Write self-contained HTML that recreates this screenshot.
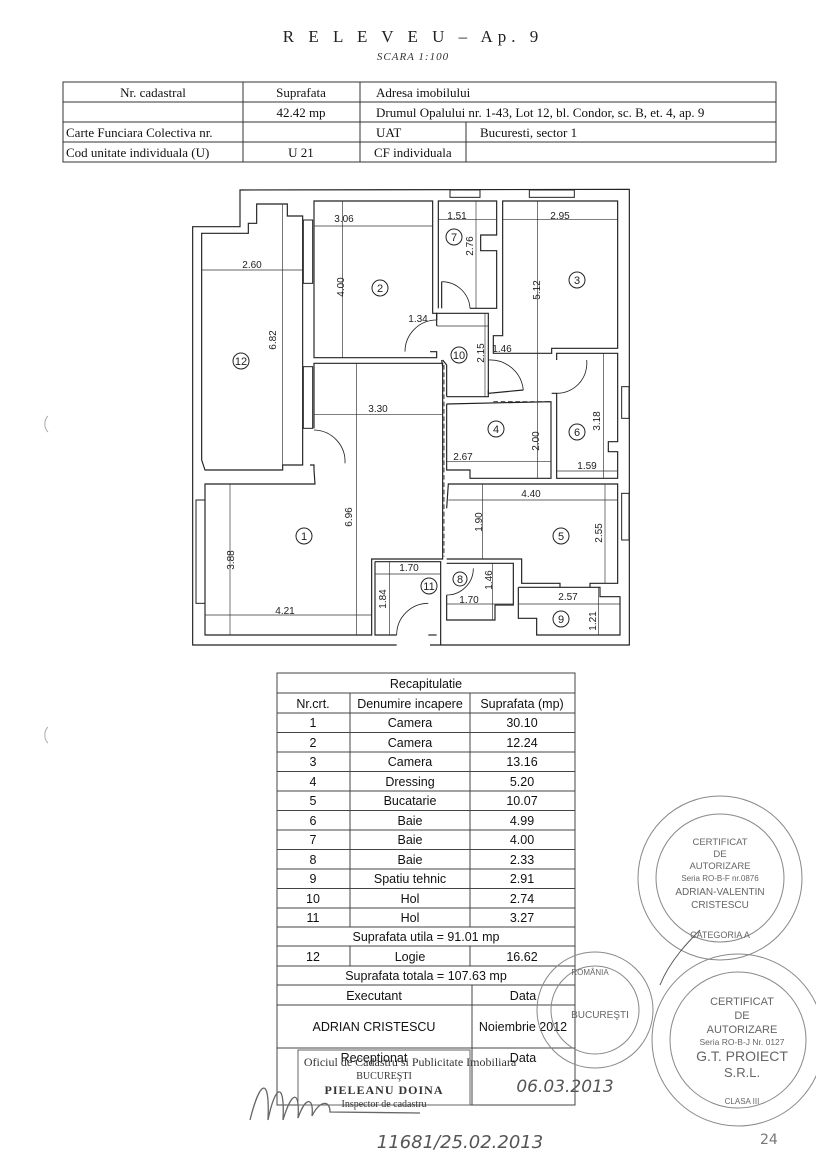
<!DOCTYPE html>
<html><head><meta charset="utf-8"><style>
html,body{margin:0;padding:0;background:#fff;}
svg{display:block;}
.s{font-family:"Liberation Serif",serif;}
.a{font-family:"Liberation Sans",sans-serif;}
</style></head><body>
<svg width="816" height="1155" viewBox="0 0 816 1155" xmlns="http://www.w3.org/2000/svg">
<rect width="816" height="1155" fill="#fff"/>
<!-- header -->
<text x="413" y="42" text-anchor="middle" class="s" font-size="17" letter-spacing="5" fill="#222">R E L E V E U  –  Ap. 9</text>
<text x="413" y="60" text-anchor="middle" class="s" font-size="11" font-style="italic" letter-spacing="1" fill="#333">SCARA 1:100</text>
<!-- top table -->
<g stroke="#333" stroke-width="1" fill="none">
<rect x="63" y="82" width="713" height="80"/>
<line x1="63" y1="102" x2="776" y2="102"/>
<line x1="63" y1="122" x2="776" y2="122"/>
<line x1="63" y1="142" x2="776" y2="142"/>
<line x1="243" y1="82" x2="243" y2="162"/>
<line x1="360" y1="82" x2="360" y2="162"/>
<line x1="466" y1="122" x2="466" y2="162"/>
</g>
<g class="s" font-size="13" fill="#111">
<text x="153" y="97" text-anchor="middle">Nr. cadastral</text>
<text x="301" y="97" text-anchor="middle">Suprafata</text>
<text x="376" y="97">Adresa imobilului</text>
<text x="301" y="117" text-anchor="middle">42.42 mp</text>
<text x="376" y="117">Drumul Opalului nr. 1-43, Lot 12, bl. Condor, sc. B, et. 4, ap. 9</text>
<text x="66" y="137">Carte Funciara Colectiva nr.</text>
<text x="376" y="137">UAT</text>
<text x="480" y="137">Bucuresti, sector 1</text>
<text x="66" y="157">Cod unitate individuala (U)</text>
<text x="301" y="157" text-anchor="middle">U 21</text>
<text x="374" y="157">CF individuala</text>
</g>
<!-- floor plan -->
<g transform="translate(190,180) scale(0.33333)" fill="none" stroke="#222" stroke-width="3.5">
<polyline points="620,1395 8,1395 8,140 150,140 150,30 1318,28 1318,1395 720,1395"/>
<!-- windows -->
<rect x="780" y="30" width="90" height="22" stroke-width="3"/>
<rect x="1018" y="30" width="135" height="22" stroke-width="3"/>
<rect x="340" y="120" width="28" height="190" stroke-width="3"/>
<rect x="340" y="560" width="28" height="185" stroke-width="3"/>
<rect x="18" y="960" width="27" height="310" stroke-width="3"/>
<rect x="1295" y="620" width="22" height="95" stroke-width="3"/>
<rect x="1295" y="940" width="22" height="140" stroke-width="3"/>
<!-- room 12 -->
<polygon points="35,160 175,160 175,130 200,130 200,72 292,72 292,108 338,108 338,855 278,855 278,870 45,870 35,840"/>
<!-- room 2 -->
<polyline points="720,515 740,515 740,533 372,533 372,63 728,63 728,400 740,400 740,420"/>
<!-- room 7 -->
<polyline points="745,385 745,63 920,63 920,165 872,165 872,212 920,212 920,385 840,385"/>
<polyline points="755,385 755,305"/>
<!-- room 3 -->
<polygon points="938,63 1283,63 1283,505 1085,505 1085,520 910,520 910,467 938,467"/>
<!-- hall 10 -->
<polyline points="740,438 740,400 895,400 895,640 1000,630"/>
<polyline points="755,540 758,560"/>
<polyline points="770,650 770,555 758,540"/>
<polyline points="770,650 895,650 895,630"/>
<!-- room 4 -->
<polyline points="770,672 1083,665 1083,895 840,895 840,870 770,870 770,672"/>
<!-- room 6 -->
<polyline points="1100,540 1100,520 1283,520 1283,785 1255,785 1255,815 1283,815 1283,895 1100,895 1100,640 1085,640"/>
<!-- room 5 -->
<polyline points="770,985 775,912 1283,912 1283,1210 1200,1210 1200,1222"/>
<polyline points="1110,1222 1110,1210 995,1210 995,1137 770,1137"/>
<!-- room 1 -->
<polyline points="360,855 372,855 372,870 375,912 45,912 45,1365 545,1365 545,1137 758,1137 758,550 372,550 372,745"/>
<!-- room 11 -->
<polyline points="555,1145 752,1145 752,1395"/>
<polyline points="555,1145 555,1365 620,1365"/>
<polyline points="715,1365 740,1365"/>
<!-- room 8 -->
<polyline points="770,1150 970,1150 970,1275 915,1275 915,1320 770,1320 770,1245"/>
<!-- room 9 -->
<polyline points="985,1222 1230,1222 1230,1250 1290,1250 1290,1365 1040,1365 1040,1315 985,1315 985,1222"/>
</g>
<!-- doors arcs -->
<g transform="translate(190,180) scale(0.33333)" fill="none" stroke="#222" stroke-width="2.5">
<path d="M755,305 A85,85 0 0 1 840,385"/>
<path d="M740,420 A95,95 0 0 0 645,515"/>
<path d="M895,540 A100,100 0 0 1 1000,630"/>
<path d="M1100,640 A90,90 0 0 0 1190,540"/>
<path d="M372,750 A95,95 0 0 1 465,850"/>
<path d="M620,1365 A95,95 0 0 1 715,1270"/>
<path d="M770,1245 A80,80 0 0 0 850,1165"/>
<g stroke-dasharray="14,8" stroke-width="2.5"><line x1="762" y1="555" x2="762" y2="1130"/><line x1="910" y1="665" x2="1085" y2="665"/><line x1="545" y1="1137" x2="760" y2="1137"/></g>
</g>
<!-- dimension lines -->
<g transform="translate(190,180) scale(0.33333)" stroke="#333" stroke-width="2" fill="none">
<line x1="372" y1="138" x2="728" y2="138"/><line x1="458" y1="63" x2="458" y2="533"/>
<line x1="745" y1="118" x2="920" y2="118"/><line x1="858" y1="63" x2="858" y2="385"/>
<line x1="938" y1="118" x2="1283" y2="118"/><line x1="1043" y1="63" x2="1043" y2="895"/>
<line x1="35" y1="270" x2="338" y2="270"/><line x1="278" y1="72" x2="278" y2="870"/>
<line x1="740" y1="438" x2="895" y2="438"/><line x1="885" y1="400" x2="885" y2="650"/>
<line x1="910" y1="520" x2="1085" y2="520"/>
<line x1="372" y1="703" x2="758" y2="703"/><line x1="500" y1="550" x2="500" y2="1365"/>
<line x1="770" y1="845" x2="1083" y2="845"/>
<line x1="1240" y1="520" x2="1240" y2="895"/><line x1="1100" y1="873" x2="1283" y2="873"/>
<line x1="775" y1="960" x2="1283" y2="960"/><line x1="878" y1="912" x2="878" y2="1137"/><line x1="1245" y1="912" x2="1245" y2="1210"/>
<line x1="120" y1="912" x2="120" y2="1365"/><line x1="45" y1="1305" x2="545" y2="1305"/>
<line x1="555" y1="1182" x2="752" y2="1182"/><line x1="598" y1="1145" x2="598" y2="1365"/>
<line x1="770" y1="1272" x2="970" y2="1272"/><line x1="908" y1="1150" x2="908" y2="1320"/>
<line x1="985" y1="1272" x2="1290" y2="1272"/><line x1="1225" y1="1222" x2="1225" y2="1365"/>
</g>
<g class="a" font-size="10" fill="#222">
<text x="344" y="222" text-anchor="middle">3.06</text>
<text x="457" y="219" text-anchor="middle">1.51</text>
<text x="560" y="219" text-anchor="middle">2.95</text>
<text x="252" y="268" text-anchor="middle">2.60</text>
<text x="418" y="322" text-anchor="middle">1.34</text>
<text x="502" y="352" text-anchor="middle">1.46</text>
<text x="378" y="412" text-anchor="middle">3.30</text>
<text x="463" y="460" text-anchor="middle">2.67</text>
<text x="587" y="469" text-anchor="middle">1.59</text>
<text x="531" y="497" text-anchor="middle">4.40</text>
<text x="409" y="571" text-anchor="middle">1.70</text>
<text x="469" y="603" text-anchor="middle">1.70</text>
<text x="568" y="600" text-anchor="middle">2.57</text>
<text x="285" y="614" text-anchor="middle">4.21</text>
<g text-anchor="middle">
<text transform="translate(344,287) rotate(-90)">4.00</text>
<text transform="translate(473,246) rotate(-90)">2.76</text>
<text transform="translate(540,290) rotate(-90)">5.12</text>
<text transform="translate(276,340) rotate(-90)">6.82</text>
<text transform="translate(484,353) rotate(-90)">2.15</text>
<text transform="translate(539,441) rotate(-90)">2.00</text>
<text transform="translate(600,421) rotate(-90)">3.18</text>
<text transform="translate(352,517) rotate(-90)">6.96</text>
<text transform="translate(482,522) rotate(-90)">1.90</text>
<text transform="translate(602,533) rotate(-90)">2.55</text>
<text transform="translate(234,560) rotate(-90)">3.88</text>
<text transform="translate(386,599) rotate(-90)">1.84</text>
<text transform="translate(492,580) rotate(-90)">1.46</text>
<text transform="translate(596,621) rotate(-90)">1.21</text>
</g>
</g>
<g fill="none" stroke="#222" stroke-width="1">
<circle cx="380" cy="288" r="8"/><circle cx="454" cy="237" r="8"/><circle cx="577" cy="280" r="8"/>
<circle cx="241" cy="361" r="8"/><circle cx="459" cy="355" r="8"/><circle cx="496" cy="429" r="8"/>
<circle cx="577" cy="432" r="8"/><circle cx="304" cy="536" r="8"/><circle cx="561" cy="536" r="8"/>
<circle cx="429" cy="586" r="8"/><circle cx="460" cy="579" r="7"/><circle cx="561" cy="619" r="8"/>
</g>
<g class="a" font-size="11" fill="#222" text-anchor="middle">
<text x="380" y="292">2</text><text x="454" y="241">7</text><text x="577" y="284">3</text>
<text x="241" y="365">12</text><text x="459" y="359">10</text><text x="496" y="433">4</text>
<text x="577" y="436">6</text><text x="304" y="540">1</text><text x="561" y="540">5</text>
<text x="429" y="590">11</text><text x="460" y="583">8</text><text x="561" y="623">9</text>
</g>
<!-- bottom table -->
<g stroke="#444" stroke-width="1" fill="none">
<rect x="277" y="673" width="298" height="432"/>
<line x1="277" y1="693" x2="575" y2="693"/>
<line x1="277" y1="713" x2="575" y2="713"/>
<line x1="277" y1="732.5" x2="575" y2="732.5"/>
<line x1="277" y1="752" x2="575" y2="752"/>
<line x1="277" y1="771.5" x2="575" y2="771.5"/>
<line x1="277" y1="791" x2="575" y2="791"/>
<line x1="277" y1="810.5" x2="575" y2="810.5"/>
<line x1="277" y1="830" x2="575" y2="830"/>
<line x1="277" y1="849.5" x2="575" y2="849.5"/>
<line x1="277" y1="869" x2="575" y2="869"/>
<line x1="277" y1="888.5" x2="575" y2="888.5"/>
<line x1="277" y1="908" x2="575" y2="908"/>
<line x1="277" y1="927" x2="575" y2="927"/>
<line x1="277" y1="946" x2="575" y2="946"/>
<line x1="277" y1="966" x2="575" y2="966"/>
<line x1="277" y1="985" x2="575" y2="985"/>
<line x1="277" y1="1005" x2="575" y2="1005"/>
<line x1="277" y1="1048" x2="575" y2="1048"/>
<line x1="350" y1="693" x2="350" y2="927"/>
<line x1="470" y1="693" x2="470" y2="927"/>
<line x1="350" y1="946" x2="350" y2="966"/>
<line x1="470" y1="946" x2="470" y2="966"/>
<line x1="472" y1="985" x2="472" y2="1105"/>
<rect x="298" y="1050" width="172" height="55" stroke="#666"/>
</g>
<g class="a" font-size="12.5" fill="#111" text-anchor="middle">
<text x="426" y="688">Recapitulatie</text>
<text x="313" y="708">Nr.crt.</text><text x="410" y="708">Denumire incapere</text><text x="522" y="708">Suprafata (mp)</text>
<text x="313" y="727">1</text><text x="410" y="727">Camera</text><text x="522" y="727">30.10</text>
<text x="313" y="747">2</text><text x="410" y="747">Camera</text><text x="522" y="747">12.24</text>
<text x="313" y="766">3</text><text x="410" y="766">Camera</text><text x="522" y="766">13.16</text>
<text x="313" y="786">4</text><text x="410" y="786">Dressing</text><text x="522" y="786">5.20</text>
<text x="313" y="805">5</text><text x="410" y="805">Bucatarie</text><text x="522" y="805">10.07</text>
<text x="313" y="825">6</text><text x="410" y="825">Baie</text><text x="522" y="825">4.99</text>
<text x="313" y="844">7</text><text x="410" y="844">Baie</text><text x="522" y="844">4.00</text>
<text x="313" y="864">8</text><text x="410" y="864">Baie</text><text x="522" y="864">2.33</text>
<text x="313" y="883">9</text><text x="410" y="883">Spatiu tehnic</text><text x="522" y="883">2.91</text>
<text x="313" y="903">10</text><text x="410" y="903">Hol</text><text x="522" y="903">2.74</text>
<text x="313" y="922">11</text><text x="410" y="922">Hol</text><text x="522" y="922">3.27</text>
<text x="426" y="941">Suprafata utila = 91.01 mp</text>
<text x="313" y="961">12</text><text x="410" y="961">Logie</text><text x="522" y="961">16.62</text>
<text x="426" y="980">Suprafata totala = 107.63 mp</text>
<text x="374" y="1000">Executant</text><text x="523" y="1000">Data</text>
<text x="374" y="1031">ADRIAN CRISTESCU</text><text x="523" y="1031">Noiembrie 2012</text>
<text x="374" y="1062">Receptionat</text><text x="523" y="1062">Data</text>
</g>
<g class="s" fill="#333" text-anchor="middle">
<text x="410" y="1066" font-size="12">Oficiul de Cadastru si Publicitate Imobiliara</text>
<text x="384" y="1079" font-size="10">BUCUREŞTI</text>
<text x="384" y="1094" font-size="12" font-weight="bold" letter-spacing="1">PIELEANU DOINA</text>
<text x="384" y="1107" font-size="10">Inspector de cadastru</text>
</g>
<!-- handwriting -->
<g fill="none" stroke="#666" stroke-width="1.3">
<path d="M250,1120 C260,1080 270,1075 268,1120 C275,1085 285,1080 283,1120 C292,1090 300,1090 298,1118 C306,1095 314,1098 312,1116 C320,1100 330,1100 330,1112 L420,1113"/>
</g>
<text x="565" y="1092" text-anchor="middle" font-family="DejaVu Sans" font-style="italic" font-size="17" fill="#555">06.03.2013</text>
<text x="460" y="1148" text-anchor="middle" font-family="DejaVu Sans" font-style="italic" font-size="18" fill="#555">11681/25.02.2013</text>
<text x="760" y="1144" font-family="DejaVu Sans" font-size="14" fill="#777">24</text>
<!-- stamps -->
<g fill="none" stroke="#888" stroke-width="1">
<circle cx="720" cy="878" r="82"/><circle cx="720" cy="878" r="64"/>
<circle cx="595" cy="1010" r="58"/><circle cx="595" cy="1010" r="44"/>
<circle cx="738" cy="1040" r="86"/><circle cx="738" cy="1040" r="68"/>
<path d="M660,985 C670,960 690,940 700,930" stroke="#555"/>
</g>
<g class="a" fill="#666" text-anchor="middle">
<text x="720" y="845" font-size="9.5">CERTIFICAT</text>
<text x="720" y="857" font-size="9.5">DE</text>
<text x="720" y="869" font-size="9.5">AUTORIZARE</text>
<text x="720" y="881" font-size="8">Seria RO-B-F nr.0876</text>
<text x="720" y="895" font-size="10">ADRIAN-VALENTIN</text>
<text x="720" y="908" font-size="10">CRISTESCU</text>
<text x="720" y="938" font-size="9">CATEGORIA A</text>
<text x="600" y="1018" font-size="10">BUCUREŞTI</text>
<text x="590" y="975" font-size="8">ROMÂNIA</text>
<text x="742" y="1005" font-size="11">CERTIFICAT</text>
<text x="742" y="1019" font-size="11">DE</text>
<text x="742" y="1033" font-size="11">AUTORIZARE</text>
<text x="742" y="1045" font-size="8.5">Seria RO-B-J Nr. 0127</text>
<text x="742" y="1061" font-size="14">G.T. PROIECT</text>
<text x="742" y="1077" font-size="13">S.R.L.</text>
<text x="742" y="1104" font-size="8">CLASA III</text>
</g>
<path d="M48,416 A8,10 0 0 0 48,432" stroke="#aaa" fill="none"/>
<path d="M48,727 A8,10 0 0 0 48,743" stroke="#aaa" fill="none"/>
</svg>
</body></html>
